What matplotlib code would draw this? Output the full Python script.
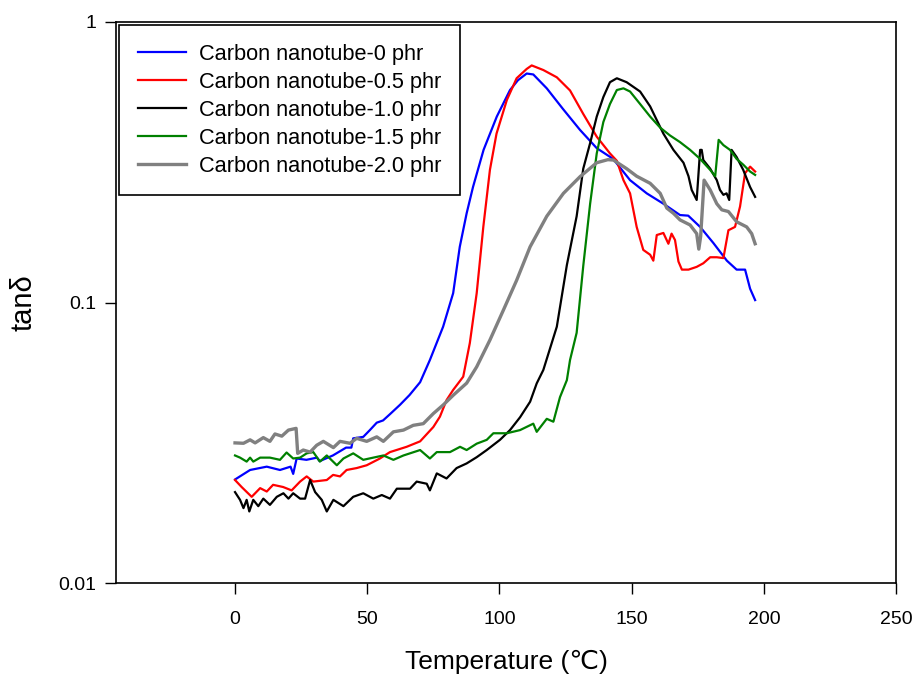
import numpy as np
import matplotlib
matplotlib.use('Agg')
from matplotlib import pyplot as plt
from matplotlib.ticker import FixedLocator, FixedFormatter, NullLocator

plt.rcParams['font.family'] = ['Liberation Sans', 'DejaVu Sans']

# tan(delta) vs temperature for each carbon nanotube loading
labels = ['Carbon nanotube-0 phr', 'Carbon nanotube-0.5 phr', 'Carbon nanotube-1.0 phr',
          'Carbon nanotube-1.5 phr', 'Carbon nanotube-2.0 phr']

t_00 = [0, 5.7, 12, 17, 21, 22, 23.3, 27, 31, 32, 37, 42, 44, 44.7, 48.5, 51, 53.6, 56, 58.6,
        62.4, 66, 70, 73.7, 78.7, 82.5, 85, 87.6, 90, 94, 99, 104, 107, 110.3, 112.8, 117.9,
        124, 130.5, 136.8, 143, 149.4, 155.7, 162, 168.3, 171.4, 175.9, 180.9, 186, 189.7,
        192.9, 194.8, 196.7]
tan_00 = [0.0234, 0.0253, 0.026, 0.0253, 0.026, 0.0245, 0.0278, 0.0275, 0.028, 0.0272, 0.0285,
          0.0304, 0.0304, 0.0328, 0.0332, 0.0351, 0.0373, 0.038, 0.040, 0.0432, 0.0468, 0.052,
          0.0624, 0.082, 0.108, 0.158, 0.208, 0.258, 0.35, 0.46, 0.572, 0.62, 0.655, 0.65, 0.58,
          0.49, 0.412, 0.355, 0.325, 0.273, 0.245, 0.225, 0.205, 0.204, 0.186, 0.163, 0.141,
          0.131, 0.131, 0.112, 0.102]

t_05 = [0, 2.5, 6.3, 9.5, 12, 14.4, 18.2, 21.4, 24.6, 27.1, 29.6, 34.7, 37.1, 39.7, 42.2, 46,
        49.8, 54.8, 58.6, 64.9, 70, 75, 77.5, 80, 82.5, 86.3, 88.8, 91.4, 93.9, 96.4, 98.9,
        102.8, 106.5, 110.3, 112.2, 116.6, 121.7, 126.7, 131.7, 136.8, 141.8, 144.4, 146.9,
        149.4, 151.9, 154.4, 157, 158.2, 159.5, 162, 163.9, 165.1, 166.4, 167.7, 169, 171.5,
        174.6, 177.1, 179.7, 182.2, 184.7, 186.6, 189.1, 191, 192.9, 194.8, 196.7]
tan_05 = [0.0233, 0.022, 0.0203, 0.0218, 0.0212, 0.0224, 0.022, 0.0214, 0.023, 0.024, 0.023,
          0.0233, 0.0243, 0.024, 0.0253, 0.0257, 0.0263, 0.0278, 0.0293, 0.0306, 0.032, 0.036,
          0.0392, 0.0449, 0.0488, 0.0544, 0.0717, 0.108, 0.186, 0.297, 0.40, 0.527, 0.63, 0.68,
          0.70, 0.674, 0.635, 0.57, 0.47, 0.39, 0.34, 0.32, 0.273, 0.245, 0.186, 0.154, 0.148,
          0.141, 0.174, 0.177, 0.162, 0.176, 0.167, 0.14, 0.131, 0.131, 0.134, 0.138, 0.145,
          0.145, 0.144, 0.181, 0.186, 0.22, 0.289, 0.305, 0.293]

t_10 = [0, 1.9, 3.2, 4.4, 5.4, 6.9, 8.8, 10.7, 13.2, 15.8, 18.3, 20.2, 22, 24.6, 26.5, 28.4,
        30.3, 32.8, 34.7, 37.2, 41, 44.7, 48.5, 52.3, 55.5, 58.6, 61.2, 66.2, 68.7, 72.5, 73.7,
        76.3, 80, 83.8, 87.6, 91.4, 95.2, 100.2, 104, 107.8, 111.6, 114.1, 116.6, 121.7, 125.5,
        129.2, 131.7, 134.3, 136.8, 139.3, 141.8, 144.4, 148.1, 153.2, 157, 159.5, 162, 165.8,
        169.6, 171.5, 172.7, 174.6, 175.9, 176.5, 177.1, 179.7, 182.2, 183.4, 184.7, 185.9,
        186.9, 187.8, 189.7, 192.2, 194.8, 196.7]
tan_10 = [0.0211, 0.0198, 0.0185, 0.0198, 0.018, 0.0198, 0.0188, 0.020, 0.019, 0.0203, 0.0209,
          0.020, 0.0209, 0.020, 0.020, 0.0233, 0.0211, 0.0198, 0.018, 0.0198, 0.0188, 0.0203,
          0.0209, 0.020, 0.0206, 0.020, 0.0217, 0.0217, 0.023, 0.0226, 0.0214, 0.0246, 0.0236,
          0.0257, 0.0267, 0.0281, 0.0298, 0.0324, 0.0351, 0.039, 0.0443, 0.0515, 0.0575, 0.082,
          0.136, 0.203, 0.30, 0.37, 0.46, 0.54, 0.61, 0.63, 0.61, 0.565, 0.50, 0.447, 0.40,
          0.35, 0.315, 0.282, 0.252, 0.232, 0.35, 0.35, 0.322, 0.30, 0.273, 0.252, 0.242,
          0.245, 0.232, 0.35, 0.33, 0.297, 0.258, 0.238]

t_15 = [0, 1.9, 4.4, 5.7, 6.9, 9.5, 13.2, 17, 19.5, 22, 24.6, 27.1, 29.6, 32.1, 34.7, 38.5, 41,
        44.7, 48.5, 52.3, 56.1, 59.9, 63.7, 70, 73.7, 76.3, 81.3, 85.1, 87.6, 91.4, 95.2, 97.7,
        102.8, 107.8, 112.8, 114.1, 117.9, 120.4, 122.9, 125.5, 126.7, 129.2, 131.7, 134.3,
        136.8, 139.3, 141.8, 144.4, 146.9, 149.4, 153.2, 157, 160.8, 164.5, 168.3, 172.1,
        175.9, 179.7, 181.6, 182.9, 184.7, 187.2, 189.7, 192.2, 194.8, 196.7]
tan_15 = [0.0285, 0.028, 0.0271, 0.028, 0.0271, 0.028, 0.028, 0.0275, 0.0292, 0.0278, 0.028,
          0.029, 0.0293, 0.0271, 0.0285, 0.0263, 0.0278, 0.029, 0.0275, 0.028, 0.0285, 0.0275,
          0.0285, 0.0298, 0.0278, 0.0293, 0.0293, 0.0306, 0.0298, 0.0314, 0.0324, 0.0342,
          0.0342, 0.0351, 0.037, 0.0346, 0.0385, 0.0376, 0.046, 0.0529, 0.0624, 0.078, 0.135,
          0.225, 0.34, 0.44, 0.51, 0.572, 0.58, 0.565, 0.51, 0.46, 0.42, 0.394, 0.373, 0.35,
          0.325, 0.297, 0.282, 0.38, 0.364, 0.35, 0.325, 0.31, 0.293, 0.285]

t_20 = [0, 3.2, 5.7, 7.6, 10.7, 13.2, 15.1, 17.7, 20.2, 23.1, 23.7, 25.8, 28.4, 30.9, 33.4,
        37.2, 39.7, 43.5, 46, 49.8, 53.6, 56.1, 59.9, 63.7, 67.4, 71.2, 75, 78.8, 82.6, 87.6,
        91.4, 96.4, 101.5, 106.5, 111.6, 117.9, 124.2, 130.5, 136.8, 141, 143.1, 148.1, 151.9,
        157, 160.8, 163.3, 165.8, 168.3, 172.1, 174.6, 175.4, 176.1, 177.4, 179.7, 182.2,
        184.1, 186.6, 189.7, 193.5, 195.4, 196.7]
tan_20 = [0.0316, 0.0315, 0.0324, 0.0316, 0.033, 0.032, 0.034, 0.0334, 0.0351, 0.0356, 0.029,
          0.0298, 0.0293, 0.031, 0.032, 0.0304, 0.032, 0.0315, 0.0328, 0.032, 0.0332, 0.032,
          0.0346, 0.0351, 0.0365, 0.037, 0.0402, 0.0432, 0.0468, 0.0516, 0.059, 0.0735, 0.094,
          0.12, 0.158, 0.203, 0.245, 0.281, 0.315, 0.323, 0.322, 0.30, 0.282, 0.266, 0.245,
          0.217, 0.208, 0.197, 0.189, 0.176, 0.155, 0.172, 0.273, 0.252, 0.225, 0.214, 0.211,
          0.194, 0.186, 0.176, 0.162]

temps = [t_00, t_05, t_10, t_15, t_20]
tands = [tan_00, tan_05, tan_10, tan_15, tan_20]
colors = ['#0000ff', '#ff0000', '#000000', '#008000', '#808080']
widths = [1.6, 1.6, 1.6, 1.6, 2.4]

fig = plt.figure(figsize=(9.18, 6.78), dpi=100)
ax = fig.add_axes([0.1264, 0.140, 0.8497, 0.8276])

for t, y, c, w, lab in zip(temps, tands, colors, widths, labels):
    ax.plot(t, y, color=c, linewidth=w, label=lab)

ax.set_yscale('log')
ax.set_xlim(-45, 250)
ax.set_ylim(0.01, 1)

ax.xaxis.set_major_locator(FixedLocator([0, 50, 100, 150, 200, 250]))
ax.yaxis.set_major_locator(FixedLocator([0.01, 0.1, 1]))
ax.yaxis.set_major_formatter(FixedFormatter(['0.01', '0.1', '1']))
ax.yaxis.set_minor_locator(NullLocator())
ax.tick_params(axis='both', direction='out', length=8, width=1, labelsize=14, pad=6)
ax.tick_params(axis='x', pad=12)
for s in ax.spines.values():
    s.set_linewidth(1.2)

ax.set_xlabel('Temperature (℃)', fontsize=19, labelpad=16)
ax.set_ylabel('tanδ', fontsize=21, labelpad=15)

leg = ax.legend(loc='upper left', bbox_to_anchor=(0, 1), borderaxespad=0.15, fontsize=15.7,
                fancybox=False, framealpha=1, edgecolor='black', handlelength=2.2,
                handletextpad=0.6, labelspacing=0.32, borderpad=0.85)
leg.get_frame().set_linewidth(1.2)

fig.savefig('out.png', dpi=100)
